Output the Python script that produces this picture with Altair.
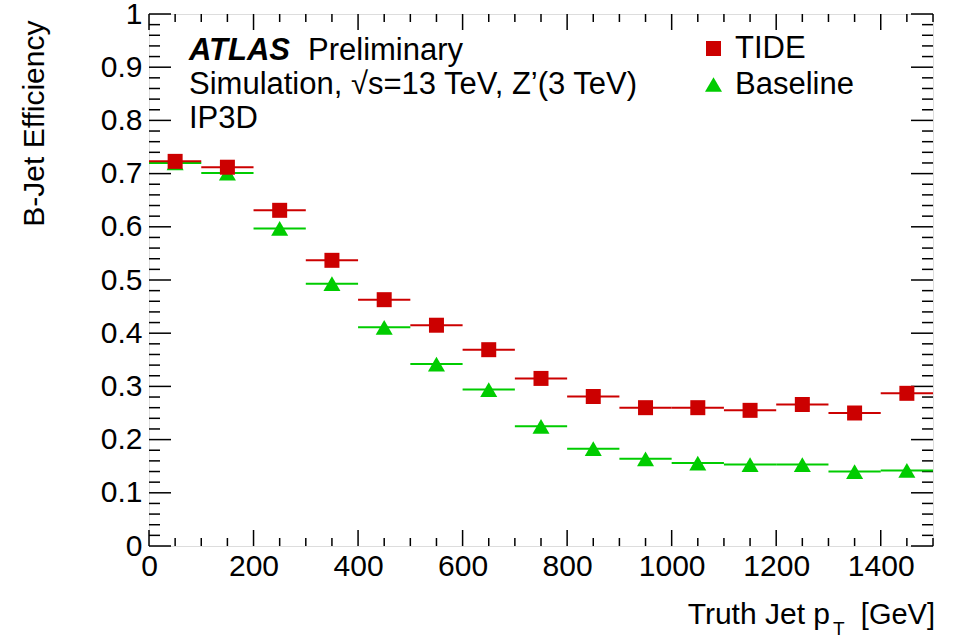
import altair as alt
import pandas as pd

# ---------------- data ----------------
bin_lo = [0, 100, 200, 300, 400, 500, 600, 700, 800, 900, 1000, 1100, 1200, 1300, 1400]
bin_hi = [100, 200, 300, 400, 500, 600, 700, 800, 900, 1000, 1100, 1200, 1300, 1400, 1500]
bin_center = [50, 150, 250, 350, 450, 550, 650, 750, 850, 950, 1050, 1150, 1250, 1350, 1450]
tide_eff = [0.723, 0.712, 0.631, 0.537, 0.463, 0.415, 0.369, 0.315, 0.281, 0.260,
            0.260, 0.255, 0.266, 0.250, 0.287]
base_eff = [0.720, 0.701, 0.597, 0.493, 0.411, 0.342, 0.294, 0.225, 0.183, 0.164,
            0.156, 0.153, 0.153, 0.140, 0.142]
series_names = ["TIDE", "Baseline"]
series_colors = ["#cc0000", "#00cc00"]
series_shapes = ["square", "triangle-up"]
series_sizes = [225, 290]

x_major = [0, 200, 400, 600, 800, 1000, 1200, 1400]
x_minor = [50, 100, 150, 250, 300, 350, 450, 500, 550, 650, 700, 750, 850, 900, 950,
           1050, 1100, 1150, 1250, 1300, 1350, 1450, 1500]
y_major = [0, 0.1, 0.2, 0.3, 0.4, 0.5, 0.6, 0.7, 0.8, 0.9, 1.0]
y_minor = [0.02, 0.04, 0.06, 0.08, 0.12, 0.14, 0.16, 0.18, 0.22, 0.24, 0.26, 0.28,
           0.32, 0.34, 0.36, 0.38, 0.42, 0.44, 0.46, 0.48, 0.52, 0.54, 0.56, 0.58,
           0.62, 0.64, 0.66, 0.68, 0.72, 0.74, 0.76, 0.78, 0.82, 0.84, 0.86, 0.88,
           0.92, 0.94, 0.96, 0.98]

# ---------------- tables ----------------
rows = []
for name, vals in (("Baseline", base_eff), ("TIDE", tide_eff)):
    for lo, hi, c, v in zip(bin_lo, bin_hi, bin_center, vals):
        rows.append({"series": name, "lo": lo, "hi": hi, "center": c, "eff": v})
df = pd.DataFrame(rows)

W, H = 784, 532
FONT = "Liberation Sans"
NARROW = "Liberation Sans Narrow, Liberation Sans"

xs = alt.Scale(domain=[0, 1500], nice=False, zero=False)
ys = alt.Scale(domain=[0, 1], nice=False, zero=False)
color_scale = alt.Scale(domain=series_names, range=series_colors)
shape_scale = alt.Scale(domain=series_names, range=series_shapes)
size_scale = alt.Scale(domain=series_names, range=series_sizes)

xaxis = alt.Axis(values=x_major, format="d", title=None, domain=False, ticks=False,
                 grid=False, labelFont=NARROW, labelFontSize=30, labelColor="black",
                 labelPadding=5, labelFlush=False, labelOverlap=False)
yaxis = alt.Axis(values=y_major, format="~g", title="B-Jet Efficiency", domain=False,
                 ticks=False, grid=False, labelFont=FONT, labelFontSize=30,
                 labelColor="black", labelPadding=7, labelFlush=False, labelOverlap=False,
                 titleFont=FONT, titleFontSize=30, titleFontWeight="normal",
                 titleColor="black", titleX=-115, titleY=6, titleAlign="right",
                 titleBaseline="middle")

legend = alt.Legend(title=None, orient="none", legendX=549, legendY=19,
                    labelFont=FONT, labelFontSize=31, labelColor="black",
                    symbolSize=215, symbolStrokeWidth=0, labelOffset=6,
                    rowPadding=4, padding=0, symbolOffset=0)

# horizontal bin-width bars, one layer per series (fixed colour)
errbars = []
for name, col in zip(series_names[::-1], series_colors[::-1]):
    errbars.append(
        alt.Chart(df).transform_filter(alt.datum.series == name)
        .mark_rule(strokeWidth=2, color=col).encode(
            x=alt.X("lo:Q", scale=xs, axis=xaxis),
            x2="hi:Q",
            y=alt.Y("eff:Q", scale=ys, axis=yaxis),
        )
    )

points = alt.Chart(df).mark_point(filled=True, opacity=1, strokeWidth=0).encode(
    x=alt.X("center:Q", scale=xs, axis=xaxis),
    y=alt.Y("eff:Q", scale=ys, axis=yaxis),
    color=alt.Color("series:N", scale=color_scale, legend=legend),
    shape=alt.Shape("series:N", scale=shape_scale, legend=legend),
    size=alt.Size("series:N", scale=size_scale, legend=None),
)

# ---------------- inward ticks (ROOT style) ----------------
xmaj = pd.DataFrame({"v": x_major})
xmin = pd.DataFrame({"v": x_minor})
ymaj = pd.DataFrame({"v": y_major})
ymin = pd.DataFrame({"v": y_minor})


def xticks(d, length, top):
    y0 = 0 if top else H
    y1 = length if top else H - length
    return alt.Chart(d).mark_rule(color="black", strokeWidth=1.5).encode(
        x=alt.X("v:Q", scale=xs, axis=xaxis), y=alt.value(y0), y2=alt.value(y1))


def yticks(d, length, right):
    x0 = W if right else 0
    x1 = W - length if right else length
    return alt.Chart(d).mark_rule(color="black", strokeWidth=1.5).encode(
        y=alt.Y("v:Q", scale=ys, axis=yaxis), x=alt.value(x0), x2=alt.value(x1))


ticks = [xticks(xmaj, 16, False), xticks(xmaj, 16, True),
         xticks(xmin, 8, False), xticks(xmin, 8, True),
         yticks(ymaj, 22, False), yticks(ymaj, 22, True),
         yticks(ymin, 11, False), yticks(ymin, 11, True)]

# ---------------- texts ----------------


def label(text, x, y, size=31, weight="normal", style="normal", align="left",
          font=FONT):
    return alt.Chart(pd.DataFrame({"t": [text]})).mark_text(
        font=font, fontSize=size, fontWeight=weight, fontStyle=style, align=align,
        baseline="alphabetic", color="black").encode(
        text="t:N", x=alt.value(x), y=alt.value(y))


texts = [
    label("ATLAS", 40, 46, weight="bold", style="italic"),
    label("Preliminary", 159, 46),
    label("Simulation, \u221as=13 TeV, Z\u2019(3 TeV)", 40, 80),
    label("IP3D", 40, 114),
    label("Truth Jet p", 681, 610, size=30, align="right"),
    label("T", 684, 621, size=19),
    label("[GeV]", 786, 610, size=29, align="right"),
]

chart = alt.layer(*ticks, *errbars, points, *texts).properties(
    width=W, height=H,
    autosize=alt.AutoSizeParams(type="none"),
    padding={"left": 149, "top": 14, "right": 20, "bottom": 92},
).configure_view(stroke="black", strokeWidth=2).configure(background="white")

chart.save("out.html", embed_options={"renderer": "svg", "actions": False})
